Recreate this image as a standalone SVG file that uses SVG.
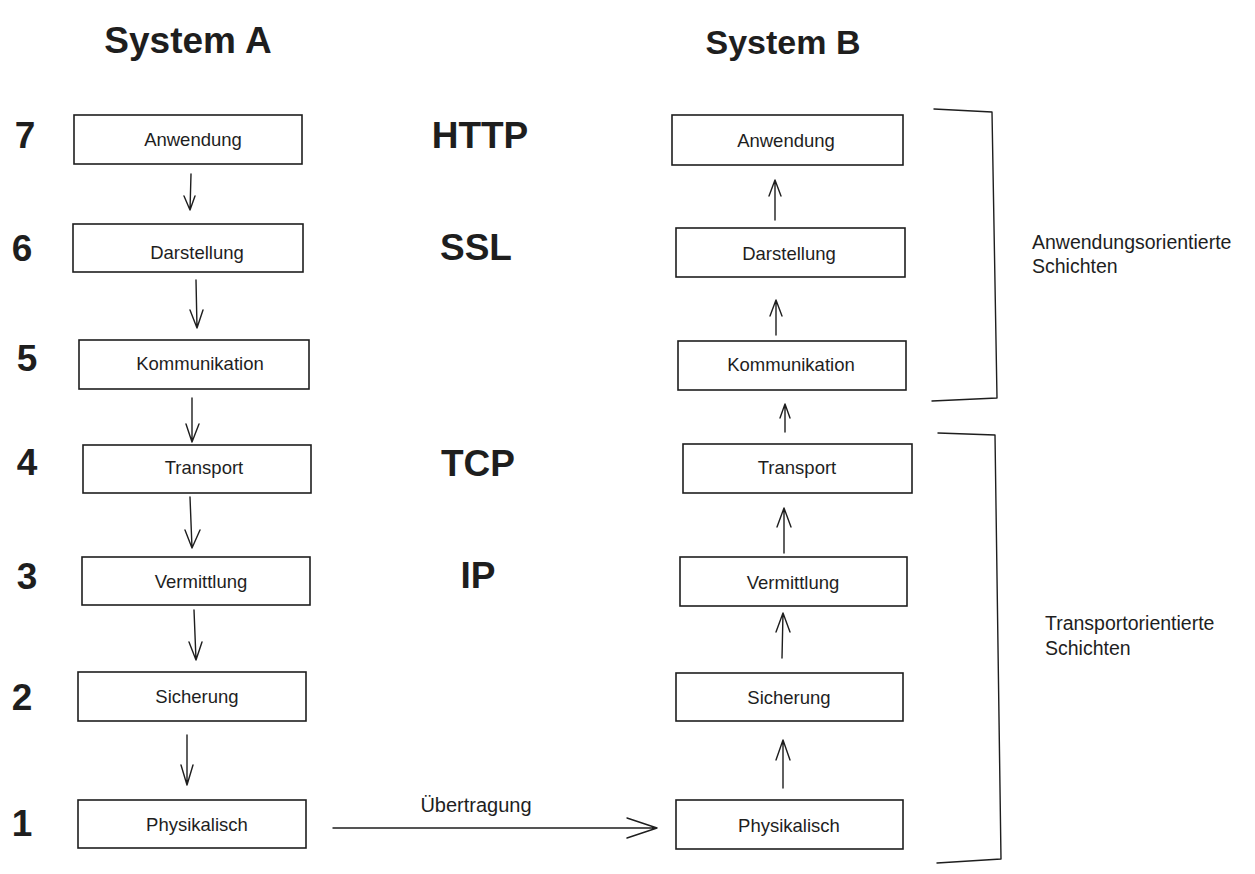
<svg xmlns="http://www.w3.org/2000/svg" width="1255" height="874" viewBox="0 0 1255 874">
<style>
.box{fill:#fff;stroke:#1e1e1e;stroke-width:1.6}
.ln{fill:none;stroke:#1e1e1e;stroke-width:1.4;stroke-linecap:round;stroke-linejoin:round}
.t{font-family:"Liberation Sans","DejaVu Sans",sans-serif;font-size:18.5px;fill:#1e1e1e;text-anchor:middle;dominant-baseline:central}
.big{font-family:"Liberation Sans","DejaVu Sans",sans-serif;font-size:37px;font-weight:bold;fill:#1e1e1e;text-anchor:middle;dominant-baseline:central}
.side{font-family:"Liberation Sans","DejaVu Sans",sans-serif;font-size:19.5px;fill:#1e1e1e}
</style>
<rect width="1255" height="874" fill="#fff"/>
<text class="big" x="188" y="40">System A</text>
<text class="big" x="783" y="42" style="font-size:34px">System B</text>
<g id="nums">
<text class="big" x="25" y="135">7</text>
<text class="big" x="22" y="248">6</text>
<text class="big" x="27" y="358">5</text>
<text class="big" x="27" y="462">4</text>
<text class="big" x="27" y="576">3</text>
<text class="big" x="22" y="697">2</text>
<text class="big" x="22" y="823">1</text>
</g>
<g id="protocols">
<text class="big" x="480" y="135">HTTP</text>
<text class="big" x="476" y="247">SSL</text>
<text class="big" x="478" y="463">TCP</text>
<text class="big" x="478" y="575">IP</text>
</g>
<g id="a7"><rect class="box" x="74" y="115" width="228" height="49"/><text class="t" x="193" y="139">Anwendung</text></g>
<g id="a6"><rect class="box" x="73" y="224" width="230" height="48"/><text class="t" x="197" y="252">Darstellung</text></g>
<g id="a5"><rect class="box" x="79" y="340" width="230" height="49"/><text class="t" x="200" y="363">Kommunikation</text></g>
<g id="a4"><rect class="box" x="83" y="445" width="228" height="48"/><text class="t" x="204" y="467">Transport</text></g>
<g id="a3"><rect class="box" x="82" y="557" width="228" height="48"/><text class="t" x="201" y="581">Vermittlung</text></g>
<g id="a2"><rect class="box" x="78" y="672" width="228" height="49"/><text class="t" x="197" y="696">Sicherung</text></g>
<g id="a1"><rect class="box" x="78" y="800" width="228" height="48"/><text class="t" x="197" y="824">Physikalisch</text></g>
<g id="b7"><rect class="box" x="672" y="115" width="231" height="50"/><text class="t" x="786" y="140">Anwendung</text></g>
<g id="b6"><rect class="box" x="676" y="228" width="229" height="49"/><text class="t" x="789" y="253">Darstellung</text></g>
<g id="b5"><rect class="box" x="678" y="341" width="228" height="49"/><text class="t" x="791" y="364">Kommunikation</text></g>
<g id="b4"><rect class="box" x="683" y="444" width="229" height="49"/><text class="t" x="797" y="467">Transport</text></g>
<g id="b3"><rect class="box" x="680" y="557" width="227" height="49"/><text class="t" x="793" y="582">Vermittlung</text></g>
<g id="b2"><rect class="box" x="676" y="673" width="227" height="48"/><text class="t" x="789" y="697">Sicherung</text></g>
<g id="b1"><rect class="box" x="676" y="800" width="227" height="49"/><text class="t" x="789" y="825">Physikalisch</text></g>
<g id="brackets">
<path class="ln" d="M934 109 L992 112 L997 398 L932 401"/>
<path class="ln" d="M938 433 L995 435 L1001 859 L937 863"/>
<text class="side" x="1032" y="249">Anwendungsorientierte</text>
<text class="side" x="1032" y="273">Schichten</text>
<text class="side" x="1045" y="630">Transportorientierte</text>
<text class="side" x="1045" y="655">Schichten</text>
</g>
<g id="connectors">
<path class="ln" d="M191 174 L190 210 M184 196 L190 210 L195 196"/>
<path class="ln" d="M196 280 L197 328 M190 310 L197 328 L203 310"/>
<path class="ln" d="M192 398 L192 442 M186 424 L192 442 L199 424"/>
<path class="ln" d="M190 497 L192 548 M185 530 L192 548 L200 530"/>
<path class="ln" d="M194 610 L196 660 M189 642 L196 660 L202 642"/>
<path class="ln" d="M187 735 L187 785 M181 765 L187 785 L193 765"/>
<path class="ln" d="M775 220 L775 180 M769 196 L775 180 L781 196"/>
<path class="ln" d="M776 335 L776 300 M770 316 L776 300 L782 316"/>
<path class="ln" d="M785 432 L785 404 M780 418 L785 404 L790 418"/>
<path class="ln" d="M784 553 L784 508 M777 527 L784 508 L791 527"/>
<path class="ln" d="M782 658 L783 613 M776 632 L783 613 L790 632"/>
<path class="ln" d="M783 788 L783 740 M776 760 L783 740 L790 760"/>
<path class="ln" d="M333 828 L657 828 M627 818 L657 828 L627 838"/>
<text class="t" x="476" y="805" style="font-size:20px">Übertragung</text>
</g>
</svg>
